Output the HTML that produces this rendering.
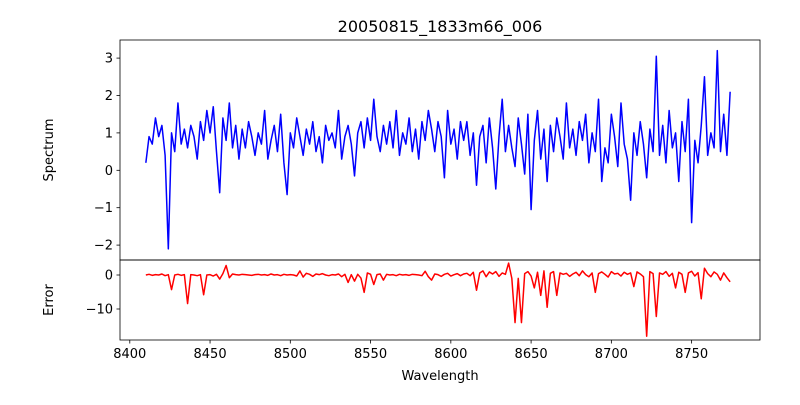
<!DOCTYPE html>
<html><head><meta charset="utf-8"><style>
body{margin:0;background:#fff;}
svg text{font-family:"DejaVu Sans","Liberation Sans",sans-serif;fill:#000;}
</style></head><body>
<svg id="chart" width="800" height="400" xmlns="http://www.w3.org/2000/svg">
<rect width="800" height="400" fill="#fff"/>
<text x="440" y="32" font-size="16" text-anchor="middle">20050815_1833m66_006</text>
<g id="top"></g>
<g id="bot"></g>
<text transform="translate(53,150) rotate(-90)" font-size="13" text-anchor="middle">Spectrum</text>
<text transform="translate(53,300) rotate(-90)" font-size="13" text-anchor="middle">Error</text>
<text x="440" y="380" font-size="13" text-anchor="middle">Wavelength</text>
</svg>
<script>
const wlStart = 8410, wlStep = 2;
const spectrum = [
0.2,0.9,0.7,1.4,0.9,1.2,0.4,-2.1,1.0,0.5,
1.8,0.7,1.1,0.6,1.2,0.9,0.3,1.3,0.8,1.6,
1.0,1.7,0.5,-0.6,1.4,0.8,1.8,0.6,1.2,0.3,
1.1,0.6,1.3,0.9,0.4,1.0,0.7,1.6,0.3,0.8,
1.2,0.5,1.5,0.2,-0.65,1.0,0.6,1.4,0.9,0.4,
1.1,0.7,1.3,0.5,0.9,0.2,1.2,0.8,1.0,0.6,
1.6,0.3,0.9,1.2,0.7,-0.15,1.0,1.3,0.6,1.4,
0.8,1.9,0.9,0.5,1.2,0.7,1.3,0.6,1.6,0.4,
1.0,0.7,1.4,0.5,1.1,0.3,1.3,0.8,1.6,1.1,
0.5,1.3,0.9,-0.2,1.6,0.7,1.1,0.3,1.3,0.8,
1.3,0.4,1.0,-0.4,0.9,1.2,0.2,1.4,0.6,-0.5,
0.9,1.9,0.5,1.2,0.6,0.1,1.4,0.7,-0.1,1.5,
-1.05,0.8,1.6,0.3,1.1,-0.3,1.2,0.5,1.4,0.9,
0.3,1.8,0.6,1.1,0.4,1.3,0.8,1.5,0.2,1.0,
0.5,1.9,-0.3,0.6,0.2,1.5,0.9,0.1,1.8,0.7,
0.3,-0.8,1.0,0.4,1.3,0.7,-0.2,1.1,0.5,3.05,
0.4,1.2,0.2,1.6,0.6,1.0,-0.3,1.3,0.5,1.9,
-1.4,0.8,0.2,1.2,2.5,0.4,1.0,0.6,3.2,0.5,
1.5,0.4,2.1];
const errorVals = [
0,0.2,-0.1,0.1,0,0.3,-0.2,0.1,-4.3,0,
0.2,-0.1,0.1,-8.4,0.1,0,-0.2,0.1,-5.8,0,
0.1,-0.3,0.2,-1.2,0.4,2.8,-0.8,0.3,0.1,0,
0.2,0.1,0,-0.1,0.1,0.2,0,0.1,-0.1,0.3,
0,0.1,-0.2,0.2,0,0.1,0,-0.3,1.2,-0.6,
0.5,0.2,-0.4,0.3,0.1,0.4,0,-0.2,0.1,0,
0.3,-0.5,0.2,-2.2,0.1,-1.8,0.2,-0.9,-5.1,0.6,
0.2,-2.8,0.1,0.3,-1.5,0.2,0,0.1,-0.2,0.2,
0,0.1,-0.1,0.2,0.1,0,-0.2,1.1,-0.5,-1.5,
0.3,0.1,-0.4,0.2,0.5,-0.3,0.1,0.4,-0.2,0.3,
0.5,-0.2,0.8,-4.5,0.6,1.2,-0.5,0.9,0.3,1.0,
-0.4,0.6,0.2,3.5,-1.0,-14,-1.0,-14,0.4,1.0,
-0.3,-3.8,0.8,-6,1.2,-9.5,0.5,1.0,-6,0.6,
0.2,0.5,-0.4,0.3,0.8,-0.2,1.2,0.1,-0.5,0.6,
-5.1,0.4,0.9,0.2,-0.6,1.0,0.3,0.5,-0.3,0.8,
0.2,0.6,-3.4,0.9,0.3,-0.5,-18,1.0,0.4,-12.2,
0.6,0.2,1.0,-0.4,0.5,-3.8,0.8,0.2,-5.1,0.6,
1.1,-0.3,0.7,-7,2,0.4,-0.5,0.9,0.2,-1.5,
0.6,-0.8,-2];
const xTicks = [8400,8450,8500,8550,8600,8650,8700,8750];
const topTicks = [-2,-1,0,1,2,3];
const botTicks = [0,-10];

const NS = "http://www.w3.org/2000/svg";
const L = 120, R = 760;
const xMin = 8393.9, xMax = 8792.6;
const sx = v => L + (v - xMin) / (xMax - xMin) * (R - L);
const topY = v => 170.3 - v * 37.4;
const botY = v => 275 - v * 3.4;
function mk(tag, attrs, parent){const e=document.createElementNS(NS,tag);for(const k in attrs)e.setAttribute(k,attrs[k]);parent.appendChild(e);return e;}

function panel(g, y0, y1, data, yf, ticks, color, showX, nameP){
  const pts = data.map((v,i)=>sx(wlStart+i*wlStep).toFixed(2)+","+yf(v).toFixed(2)).join(" ");
  const line = mk("polyline",{points:pts,fill:"none",stroke:color,"stroke-width":1.5,"stroke-linejoin":"round"},g);
  
  
  ticks.forEach(t=>{
    const y = yf(t);
    const tk = mk("line",{x1:L-3.5,x2:L,y1:y,y2:y,stroke:"#000","stroke-width":0.8},g);
    
    
    const tx = mk("text",{x:L-7,y:y+4.5,"font-size":13,"text-anchor":"end"},g);
    tx.textContent = t < 0 ? "\u2212" + Math.abs(t) : String(t);
    
    
  });
  if(showX){
    xTicks.forEach(t=>{
      const x = sx(t);
      const tk = mk("line",{x1:x,x2:x,y1:y1,y2:y1+3.5,stroke:"#000","stroke-width":0.8},g);
      
      
      const tx = mk("text",{x:x,y:y1+18,"font-size":13,"text-anchor":"middle"},g);
      tx.textContent = String(t);
      
      
    });
  }
  const fr = mk("rect",{x:L,y:y0,width:R-L,height:y1-y0,fill:"none",stroke:"#000","stroke-width":0.8},g);
  
  
}
panel(document.getElementById("top"), 40, 260, spectrum, topY, topTicks, "#0000ff", false, "spectrum");
panel(document.getElementById("bot"), 260, 340, errorVals, botY, botTicks, "#ff0000", true, "error");
</script>
</body></html>
